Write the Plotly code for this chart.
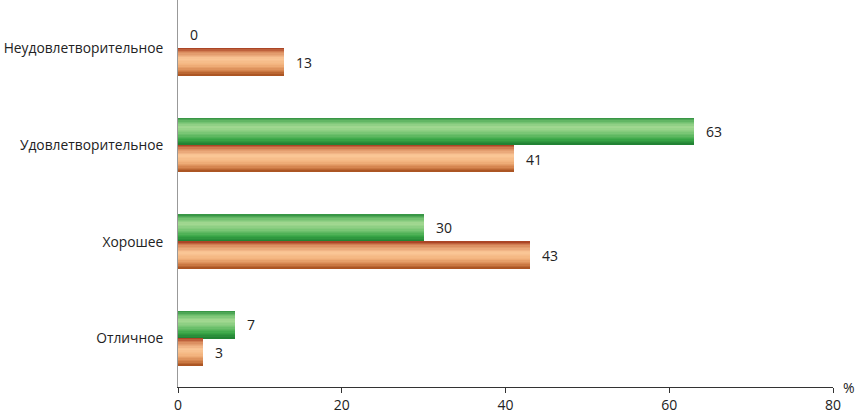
import plotly.graph_objects as go

categories = ["Неудовлетворительное", "Удовлетворительное", "Хорошее", "Отличное"]
series_green = [0, 63, 30, 7]
series_orange = [13, 41, 43, 3]
x_ticks = [0, 20, 40, 60, 80]


def hex2rgb(h):
    h = h.lstrip("#")
    return tuple(int(h[i:i + 2], 16) for i in (0, 2, 4))


def interp(stops, t):
    for (p0, c0), (p1, c1) in zip(stops, stops[1:]):
        if p0 <= t <= p1:
            f = (t - p0) / (p1 - p0) if p1 > p0 else 0
            a, b = hex2rgb(c0), hex2rgb(c1)
            return "rgb(%d,%d,%d)" % tuple(round(a[i] + (b[i] - a[i]) * f) for i in range(3))
    return "rgb(%d,%d,%d)" % hex2rgb(stops[-1][1])


green_stops = [(0, "#2f8f3f"), (0.15, "#6cbe6c"), (0.35, "#a6da94"), (0.55, "#80c97a"),
               (0.8, "#3ba848"), (1, "#1e7e31")]
orange_stops = [(0, "#a2381b"), (0.15, "#d98a5c"), (0.4, "#fbc898"), (0.65, "#f2b27c"),
                (0.85, "#d2804a"), (1, "#a44e1c")]

BAR_W = 0.28
N = 20
fig = go.Figure()


def add_grad(values, stops, base_off):
    step = BAR_W / N
    for k in range(N):
        t = (k + 0.5) / N
        fig.add_trace(go.Bar(
            x=values, y=categories, orientation="h",
            width=step * 1.05, offset=base_off + k * step,
            marker=dict(color=interp(stops, t), line=dict(width=0)),
            showlegend=False, hoverinfo="skip"))


add_grad(series_green, green_stops, -BAR_W)
add_grad(series_orange, orange_stops, 0.0)

font = dict(family="Open Sans, Liberation Sans, sans-serif", size=14, color="#222")

for vals, ys in ((series_green, 14), (series_orange, -14)):
    for c, v in zip(categories, vals):
        fig.add_annotation(x=v, y=c, text=str(v), showarrow=False, xanchor="left",
                           xshift=10, yshift=ys, font=font)

fig.add_annotation(x=1, y=0, xref="paper", yref="paper", text="%", showarrow=False,
                   xanchor="left", yanchor="middle", xshift=8, yshift=0, font=font)

fig.update_layout(
    width=855, height=414,
    margin=dict(l=178, r=22, t=0, b=27),
    barmode="overlay", bargap=0,
    plot_bgcolor="white", paper_bgcolor="white",
    font=font,
)
fig.update_xaxes(range=[0, 80], tickvals=x_ticks, showgrid=False, zeroline=False,
                 showline=True, linecolor="#333", linewidth=1, automargin=False,
                 ticks="outside", ticklen=5, tickcolor="#333")
fig.update_yaxes(categoryorder="array", categoryarray=categories, autorange="reversed",
                 showgrid=False, zeroline=False, showline=True, linecolor="#999",
                 ticks="", ticklabelstandoff=11, automargin=False,
                 tickfont=dict(size=13.8))

fig.write_html("out.html", config={"displayModeBar": False},
               post_script="document.body.style.margin='0';")
